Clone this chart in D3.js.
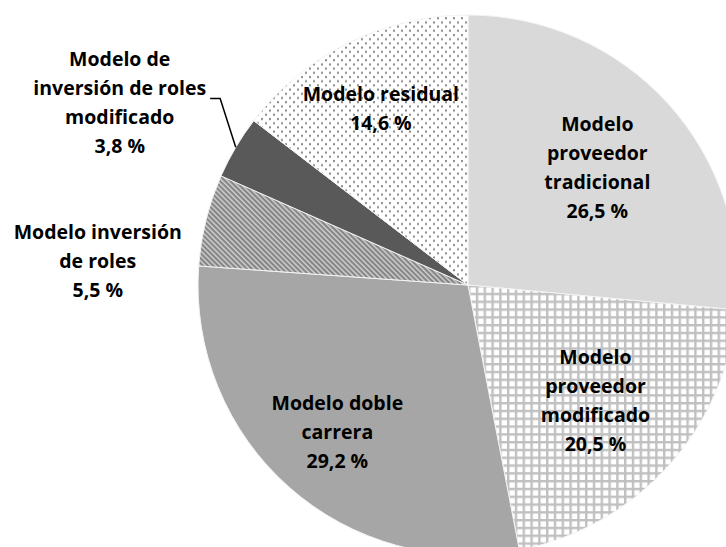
<!DOCTYPE html>
<html>
<head>
<meta charset="utf-8">
<script src="https://cdn.jsdelivr.net/npm/d3@7"></script>
<style>
  body { margin: 0; background: #fff; }
  text { font-family: "Open Sans", sans-serif; font-weight: bold; font-size: 19.5px; fill: #000; }
</style>
</head>
<body>
<svg></svg>
<script>
const width = 726;
const height = 547;

// data
const categories = [
    "Modelo proveedor tradicional",
    "Modelo proveedor modificado",
    "Modelo doble carrera",
    "Modelo inversión de roles",
    "Modelo de inversión de roles modificado",
    "Modelo residual"
];
const values = [26.5, 20.5, 29.2, 5.5, 3.8, 14.6];
const labelLines = [
    ["Modelo", "proveedor", "tradicional"],
    ["Modelo", "proveedor", "modificado"],
    ["Modelo doble", "carrera"],
    ["Modelo inversión", "de roles"],
    ["Modelo de", "inversión de roles", "modificado"],
    ["Modelo residual"]
];

// label placement: radius from centre, angle (deg) or null = slice middle
const labelPlace = [
    {r: 175, a: null},
    {r: 172, a: null},
    {r: 197, a: null},
    {r: 371, a: 273.7},
    {r: 393, a: 297.6},
    {r: 197, a: null}
];
const fills = ["#d9d9d9", "url(#grid)", "#a6a6a6", "url(#stripes)", "#595959", "url(#dots)"];

const cx = 468, cy = 285, radius = 270;
const lineH = 29;
const fmt = d3.formatLocale({decimal: ",", thousands: "."}).format(".1f");

const svg = d3.select("svg")
    .attr("width", width)
    .attr("height", height);

// patterns
const defs = svg.append("defs");

const grid = defs.append("pattern")
    .attr("id", "grid")
    .attr("patternUnits", "userSpaceOnUse")
    .attr("width", 7.8).attr("height", 7.8);
grid.append("rect").attr("width", 7.8).attr("height", 7.8).attr("fill", "#fff");
grid.append("rect").attr("x", 0).attr("y", 0).attr("width", 7.8).attr("height", 2.4).attr("fill", "#c0c0c0");
grid.append("rect").attr("x", 0).attr("y", 0).attr("width", 2.4).attr("height", 7.8).attr("fill", "#c0c0c0");

const stripes = defs.append("pattern")
    .attr("id", "stripes")
    .attr("patternUnits", "userSpaceOnUse")
    .attr("width", 3.6).attr("height", 10)
    .attr("patternTransform", "rotate(-45)");
stripes.append("rect").attr("width", 3.6).attr("height", 10).attr("fill", "#858585");
stripes.append("rect").attr("width", 1.5).attr("height", 10).attr("fill", "#cfcfcf");

const dots = defs.append("pattern")
    .attr("id", "dots")
    .attr("patternUnits", "userSpaceOnUse")
    .attr("width", 8).attr("height", 8.4);
dots.append("rect").attr("width", 8).attr("height", 8.4).attr("fill", "#fff");
dots.append("rect").attr("x", 1).attr("y", 1).attr("width", 2).attr("height", 2).attr("fill", "#8a8a8a");
dots.append("rect").attr("x", 5).attr("y", 5.2).attr("width", 2).attr("height", 2).attr("fill", "#8a8a8a");

// pie
const pie = d3.pie().sort(null).value(d => d);
const arcs = pie(values);

const arc = d3.arc()
    .innerRadius(0)
    .outerRadius(radius);

const g = svg.append("g")
    .attr("transform", `translate(${cx}, ${cy})`);

g.selectAll("path.slice")
    .data(arcs)
    .join("path")
    .attr("class", "slice")
    .attr("fill", (d, i) => fills[i])
    .attr("stroke", "#f4f4f4")
    .attr("stroke-width", 1)
    .attr("d", arc);

// labels
function polar(r, deg) {
    const a = deg * Math.PI / 180;
    return [r * Math.sin(a), -r * Math.cos(a)];
}

arcs.forEach((d, i) => {
    const mid = (d.startAngle + d.endAngle) / 2 * 180 / Math.PI;
    const p = labelPlace[i];
    const [lx, ly] = polar(p.r, p.a === null ? mid : p.a);
    const lines = labelLines[i].concat([fmt(values[i]) + " %"]);
    const y0 = ly - (lines.length - 1) * lineH / 2 + 7;

    const t = g.append("text")
        .attr("text-anchor", "middle");
    lines.forEach((s, j) => {
        t.append("tspan")
            .attr("x", lx)
            .attr("y", y0 + j * lineH)
            .text(s);
    });

    // leader line for the small slice
    if (i === 4) {
        const tsp = t.selectAll("tspan").nodes()[1];
        const w = tsp.getComputedTextLength();
        const ex = lx + w / 2 + 4;
        const ey = y0 + lineH + 3;
        const [ax, ay] = polar(radius, mid);
        g.append("polyline")
            .attr("fill", "none")
            .attr("stroke", "#000")
            .attr("stroke-width", 1.5)
            .attr("points", [[ex, ey], [ex + 10, ey], [ax, ay]].map(q => q.join(",")).join(" "));
    }
});
</script>
</body>
</html>
